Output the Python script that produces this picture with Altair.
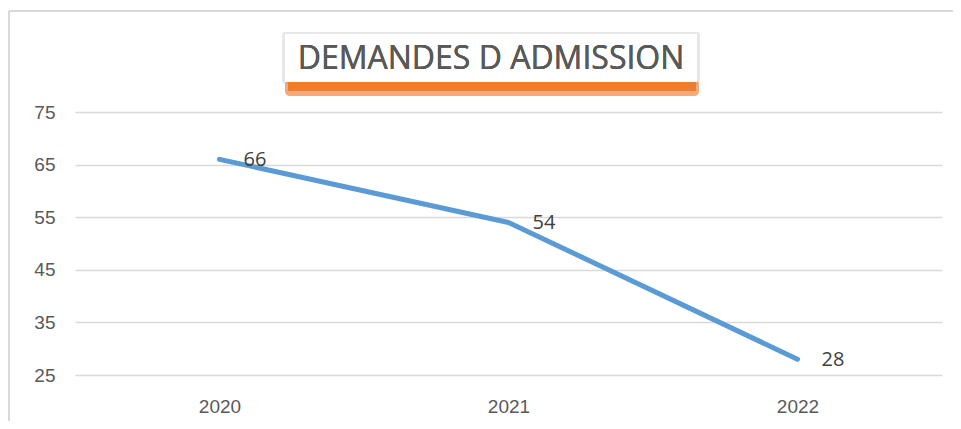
import altair as alt
import pandas as pd

years = ["2020", "2021", "2022"]
values = [66, 54, 28]
y_ticks = [25, 35, 45, 55, 65, 75]
title_text = "DEMANDES D ADMISSION"

df = pd.DataFrame({"year": years, "value": values})

W, H = 867, 263
PAD = {"left": 67, "top": 104, "right": 11, "bottom": 46}

x_enc = alt.X("year:N", sort=years, scale=alt.Scale(paddingInner=0, paddingOuter=0),
              axis=alt.Axis(title=None, labelAngle=0, labelFont="Liberation Sans", labelFontSize=19,
                            labelColor="#595959", labelPadding=22, ticks=False, domain=False, grid=False))
y_enc = alt.Y("value:Q", scale=alt.Scale(domain=[25, 75], nice=False, zero=False),
              axis=alt.Axis(title=None, values=y_ticks, labelFont="Liberation Sans", labelFontSize=19,
                            labelColor="#595959", labelPadding=20, ticks=False, domain=False,
                            grid=True, gridColor="#d9d9d9", gridWidth=1.6))

base = alt.Chart(df)

line = base.mark_line(color="#5B9BD5", strokeWidth=5, strokeCap="round", strokeJoin="round").encode(
    x=x_enc, y=y_enc)

labels = base.mark_text(align="left", baseline="middle", dx=24, dy=1, font="Open Sans",
                        fontSize=20, color="#404040").encode(
    x=alt.X("year:N", sort=years), y="value:Q", text="value:Q")

# outer chart border (top and left)
border_top = base.mark_rule(color="#d9d9d9", strokeWidth=2).encode(
    x=alt.value(-66), x2=alt.value(W + 20), y=alt.value(-101))
border_left = base.mark_rule(color="#d9d9d9", strokeWidth=2).encode(
    x=alt.value(-66), y=alt.value(-101), y2=alt.value(H + 60))

# title box with soft shadows
side_shadow = base.mark_rect(color="#e6e6e6", opacity=0.6, cornerRadius=3).encode(
    x=alt.value(207), x2=alt.value(625), y=alt.value(-80), y2=alt.value(-28))
shadow_soft = base.mark_rect(color="#ED7D31", opacity=0.3, cornerRadius=5).encode(
    x=alt.value(210), x2=alt.value(624), y=alt.value(-32), y2=alt.value(-16))
shadow = base.mark_rect(color="#ED7D31", opacity=0.9).encode(
    x=alt.value(213), x2=alt.value(621), y=alt.value(-32), y2=alt.value(-21))
box = base.mark_rect(color="white").encode(
    x=alt.value(210), x2=alt.value(622), y=alt.value(-78), y2=alt.value(-30))
title = base.mark_text(align="center", baseline="middle", font="Open Sans", fontSize=32,
                       color="#595959").encode(
    x=alt.value(416), y=alt.value(-53), text=alt.value(title_text))

chart = alt.layer(border_top, border_left, line, labels, side_shadow, shadow_soft, shadow, box, title).properties(
    width=W, height=H, autosize=alt.AutoSizeParams(type="none"), padding=PAD
).configure_view(stroke=None)

chart.save("out.html", embed_options={"renderer": "svg", "actions": False})
